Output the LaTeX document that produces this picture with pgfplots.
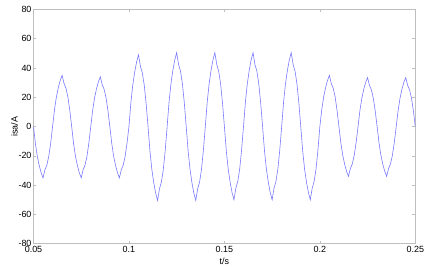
\documentclass[border=0pt]{standalone}
\usepackage{pgfplots}
\pgfplotsset{compat=1.18}
\usepackage{fontspec}
\setmainfont{Liberation Sans}
\definecolor{wave}{RGB}{120,120,255}
\definecolor{axgray}{RGB}{190,190,190}
\begin{document}
\begin{tikzpicture}[x=1bp,y=1bp]
\begin{axis}[
  scale only axis,
  width=381.8bp, height=234.2bp,
  xmin=0.05, xmax=0.25, ymin=-80, ymax=80,
  xtick={0.05,0.1,0.15,0.2,0.25},
  xticklabels={0.05,0.1,0.15,0.2,0.25},
  ytick={-80,-60,-40,-20,0,20,40,60,80},
  tick align=inside,
  major tick length=3bp,
  axis line style={axgray, line width=0.8bp},
  every tick/.style={axgray, line width=0.6bp},
  tick label style={font=\fontsize{9}{10}\selectfont, black},
  /pgf/number format/assume math mode=true,
  xticklabel style={yshift=0.5bp},
  yticklabel style={xshift=1.5bp},
  xlabel={t/s}, ylabel={isa/A},
  label style={font=\fontsize{9}{10}\selectfont},
  xlabel style={yshift=2bp},
  ylabel style={yshift=-6bp},
]
\addplot[wave, line width=0.6bp] coordinates {
(0.050,0) (0.051,-11.6) (0.052,-20.3) (0.053,-26.6) (0.054,-31.5) (0.055,-35) (0.056,-29.4) (0.057,-26.3) (0.058,-20.3) (0.059,-11.2)
(0.060,0) (0.061,11.6) (0.062,20.3) (0.063,26.6) (0.064,31.5) (0.065,35) (0.066,29.4) (0.067,26.3) (0.068,20.3) (0.069,11.2)
(0.070,0) (0.071,-11.6) (0.072,-20.3) (0.073,-26.6) (0.074,-31.5) (0.075,-35) (0.076,-29.4) (0.077,-26.3) (0.078,-20.3) (0.079,-11.2)
(0.080,0) (0.081,11.2) (0.082,19.7) (0.083,25.8) (0.084,30.6) (0.085,34) (0.086,28.6) (0.087,25.5) (0.088,19.7) (0.089,10.9)
(0.090,0) (0.091,-11.6) (0.092,-20.3) (0.093,-26.6) (0.094,-31.5) (0.095,-35) (0.096,-29.4) (0.097,-26.3) (0.098,-20.3) (0.099,-11.2)
(0.100,0) (0.101,16.2) (0.102,28.4) (0.103,37.2) (0.104,44.1) (0.105,49) (0.106,41.2) (0.107,36.8) (0.108,28.4) (0.109,15.7)
(0.110,0) (0.111,-16.7) (0.112,-29.3) (0.113,-38.4) (0.114,-45.5) (0.115,-50.5) (0.116,-42.4) (0.117,-37.9) (0.118,-29.3) (0.119,-16.2)
(0.120,0) (0.121,16.7) (0.122,29.3) (0.123,38.4) (0.124,45.5) (0.125,50.5) (0.126,42.4) (0.127,37.9) (0.128,29.3) (0.129,16.2)
(0.130,0) (0.131,-16.7) (0.132,-29.3) (0.133,-38.4) (0.134,-45.5) (0.135,-50.5) (0.136,-42.4) (0.137,-37.9) (0.138,-29.3) (0.139,-16.2)
(0.140,0) (0.141,16.7) (0.142,29.3) (0.143,38.4) (0.144,45.5) (0.145,50.5) (0.146,42.4) (0.147,37.9) (0.148,29.3) (0.149,16.2)
(0.150,0) (0.151,-16.5) (0.152,-29) (0.153,-38) (0.154,-45) (0.155,-50) (0.156,-42) (0.157,-37.5) (0.158,-29) (0.159,-16)
(0.160,0) (0.161,16.7) (0.162,29.3) (0.163,38.4) (0.164,45.5) (0.165,50.5) (0.166,42.4) (0.167,37.9) (0.168,29.3) (0.169,16.2)
(0.170,0) (0.171,-16.5) (0.172,-29) (0.173,-38) (0.174,-45) (0.175,-50) (0.176,-42) (0.177,-37.5) (0.178,-29) (0.179,-16)
(0.180,0) (0.181,16.7) (0.182,29.3) (0.183,38.4) (0.184,45.5) (0.185,50.5) (0.186,42.4) (0.187,37.9) (0.188,29.3) (0.189,16.2)
(0.190,0) (0.191,-16.5) (0.192,-29) (0.193,-38) (0.194,-45) (0.195,-50) (0.196,-42) (0.197,-37.5) (0.198,-29) (0.199,-16)
(0.200,0) (0.201,11.6) (0.202,20.3) (0.203,26.6) (0.204,31.5) (0.205,35) (0.206,29.4) (0.207,26.3) (0.208,20.3) (0.209,11.2)
(0.210,0) (0.211,-11.2) (0.212,-19.7) (0.213,-25.8) (0.214,-30.6) (0.215,-34) (0.216,-28.6) (0.217,-25.5) (0.218,-19.7) (0.219,-10.9)
(0.220,0) (0.221,11.1) (0.222,19.4) (0.223,25.5) (0.224,30.2) (0.225,33.5) (0.226,28.1) (0.227,25.1) (0.228,19.4) (0.229,10.7)
(0.230,0) (0.231,-11.2) (0.232,-19.7) (0.233,-25.8) (0.234,-30.6) (0.235,-34) (0.236,-28.6) (0.237,-25.5) (0.238,-19.7) (0.239,-10.9)
(0.240,0) (0.241,11.1) (0.242,19.4) (0.243,25.5) (0.244,30.2) (0.245,33.5) (0.246,28.1) (0.247,25.1) (0.248,19.4) (0.249,10.7)
(0.250,0)
};
\end{axis}
\pgfresetboundingbox
\path (current axis.south west) ++(-33.5bp,-23.3bp) coordinate (bl);
\path (current axis.north east) ++(9.7bp,9.5bp) coordinate (tr);
\path (bl) rectangle (tr);
\end{tikzpicture}
\end{document}
